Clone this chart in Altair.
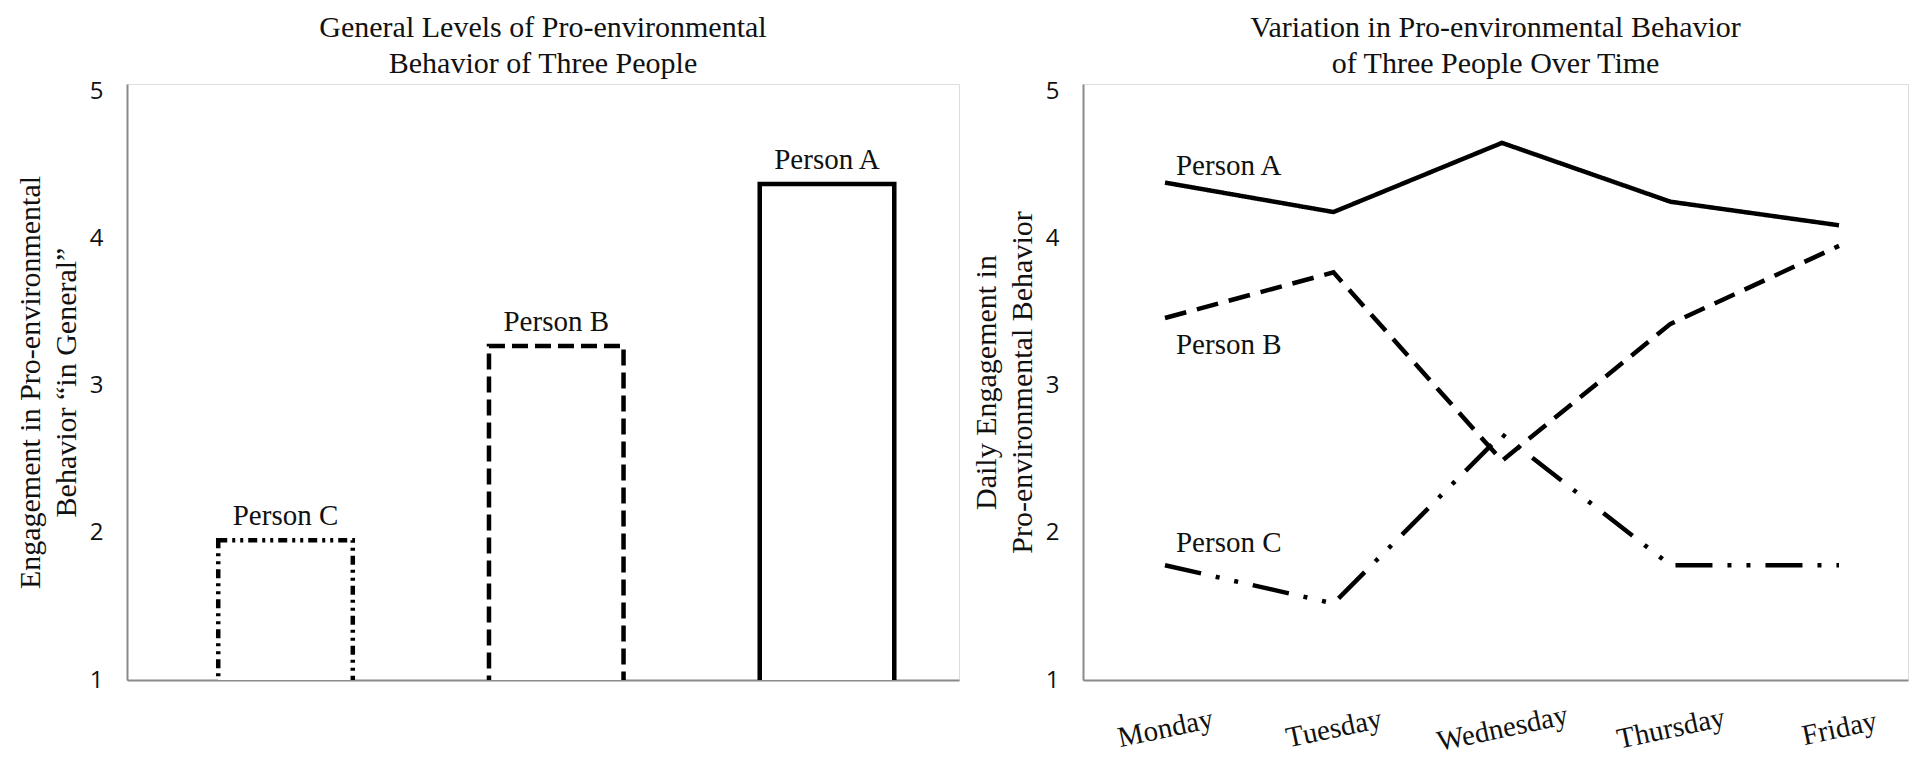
import altair as alt
import pandas as pd

# ---- data ----
people = ["Person C", "Person B", "Person A"]
general_level = [1.95, 3.27, 4.37]

days = ["Monday", "Tuesday", "Wednesday", "Thursday", "Friday"]
person_a = [4.38, 4.18, 4.65, 4.25, 4.09]
person_b = [3.46, 3.77, 2.49, 3.42, 3.95]
person_c = [1.78, 1.52, 2.67, 1.78, 1.78]

y_ticks = [1, 2, 3, 4, 5]

SERIF = "Liberation Serif"
SANS = "Open Sans"
AXIS_GRAY = "#8a8a8a"

dash_domain = ["Person A", "Person B", "Person C"]
bar_dash = [[1, 0], [16, 7], [9, 5, 3, 5, 3, 5]]
line_dash = [[1, 0], [22, 11], [37, 15, 4, 15, 4, 15]]

bars_df = pd.DataFrame({"person": people, "level": general_level})

rows = []
for name, vals in (("Person A", person_a), ("Person B", person_b), ("Person C", person_c)):
    for d, v in zip(days, vals):
        rows.append({"person": name, "day": d, "value": v})
lines_df = pd.DataFrame(rows)

y_scale = alt.Scale(domain=[1, 5.05], nice=False, zero=False)


def y_axis(title_lines):
    return alt.Axis(
        title=title_lines,
        values=y_ticks,
        format="d",
        grid=False,
        ticks=False,
        domainColor=AXIS_GRAY,
        domainWidth=2,
        labelFont=SANS,
        labelFontSize=24,
        labelColor="#111111",
        labelPadding=24,
        titleFont=SERIF,
        titleFontSize=30,
        titleFontWeight="normal",
        titleColor="#111111",
        titleLineHeight=36,
        titlePadding=8,
    )


# ---------------- left panel ----------------
x_left = alt.X(
    "person:N",
    sort=people,
    scale=alt.Scale(paddingInner=0.503, paddingOuter=0.288, align=0.585),
    axis=alt.Axis(title=None, labels=False, ticks=False, grid=False,
                  domainColor=AXIS_GRAY, domainWidth=2),
)

bars = alt.Chart(bars_df).mark_bar(
    fill="white", stroke="black", strokeWidth=4.5, clip=True, strokeJoin="miter"
).encode(
    x=x_left,
    y=alt.Y("level:Q", scale=y_scale,
            axis=y_axis(["Engagement in Pro-environmental", "Behavior \u201cin General\u201d"])),
    y2=alt.datum(0.9),
    strokeDash=alt.StrokeDash("person:N", scale=alt.Scale(domain=dash_domain, range=bar_dash),
                              legend=None),
)

bar_labels = alt.Chart(bars_df).mark_text(
    font=SERIF, fontSize=29, color="#111111", dy=-24, baseline="middle", align="center"
).encode(
    x=alt.X("person:N", sort=people),
    y=alt.Y("level:Q"),
    text="person:N",
)

left = alt.layer(bars, bar_labels).properties(
    width=832,
    height=596,
    title=alt.Title(
        ["General Levels of Pro-environmental", "Behavior of Three People"],
        font=SERIF, fontSize=30, fontWeight="normal", color="#111111",
        lineHeight=36, anchor="middle", offset=0,
    ),
)

# ---------------- right panel ----------------
x_right = alt.X(
    "day:N",
    sort=days,
    scale=alt.Scale(type="point", padding=0.448, align=0.543),
    axis=alt.Axis(title=None, ticks=False, grid=False, domainColor=AXIS_GRAY, domainWidth=2,
                  labelAngle=348, labelAlign="center", labelBaseline="middle",
                  labelPadding=48, labelFont=SERIF, labelFontSize=29, labelColor="#111111"),
)

lines = alt.Chart(lines_df).mark_line(
    color="black", strokeWidth=4.5, strokeCap="butt", strokeJoin="miter"
).encode(
    x=x_right,
    y=alt.Y("value:Q", scale=y_scale,
            axis=y_axis(["Daily Engagement in", "Pro-environmental Behavior"])),
    detail="person:N",
    strokeDash=alt.StrokeDash("person:N", scale=alt.Scale(domain=dash_domain, range=line_dash),
                              legend=None),
    order=alt.Order("day_idx:Q"),
).transform_calculate(
    day_idx="indexof(" + str(days) + ", datum.day)"
)

label_dy = {"Person A": -17, "Person B": 27, "Person C": -22}
line_labels = []
for name, dy in label_dy.items():
    line_labels.append(
        alt.Chart(lines_df).transform_filter(
            (alt.datum.person == name) & (alt.datum.day == days[0])
        ).mark_text(
            font=SERIF, fontSize=29, color="#111111", align="left", baseline="middle",
            dx=11, dy=dy,
        ).encode(
            x=alt.X("day:N", sort=days),
            y=alt.Y("value:Q"),
            text="person:N",
        )
    )

right = alt.layer(lines, *line_labels).properties(
    width=825,
    height=596,
    title=alt.Title(
        ["Variation in Pro-environmental Behavior", "of Three People Over Time"],
        font=SERIF, fontSize=30, fontWeight="normal", color="#111111",
        lineHeight=36, anchor="middle", offset=0,
    ),
)

chart = alt.hconcat(left, right, spacing=124, bounds="flush").resolve_scale(
    x="independent", strokeDash="independent"
).properties(
    padding={"left": 6, "top": 4, "right": 0, "bottom": 0}
).configure_view(stroke=None).configure(background="white")

chart.save("out.html", embed_options={"renderer": "svg", "actions": False})
